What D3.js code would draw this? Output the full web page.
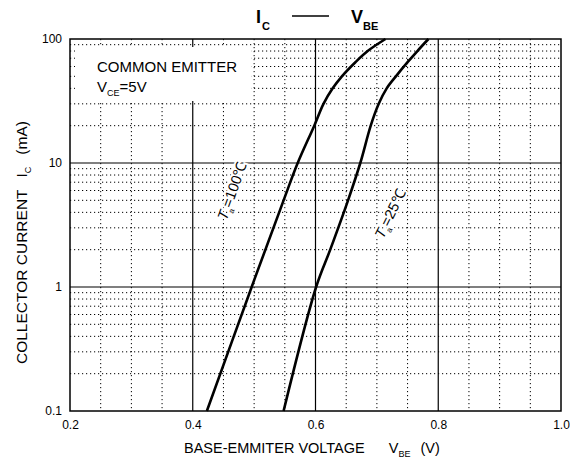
<!DOCTYPE html>
<html>
<head>
<meta charset="utf-8">
<script src="https://cdn.jsdelivr.net/npm/d3@7"></script>
<style>
  body { margin: 0; background: #fff; }
  text { font-family: "Liberation Sans", Arial, sans-serif; fill: #000; }
</style>
</head>
<body>
<svg id="chart" width="570" height="461"></svg>
<script>
// curve data
const vbe100 = [0.423, 0.496, 0.548, 0.571, 0.598, 0.613, 0.628, 0.643, 0.665, 0.685, 0.714];
const ic100 = [0.1, 1, 5, 10, 20, 30, 40, 50, 65, 80, 100];
const vbe25 = [0.548, 0.601, 0.624, 0.653, 0.673, 0.690, 0.703, 0.716, 0.731, 0.750, 0.766, 0.784];
const ic25 = [0.1, 1, 2, 5, 10, 20, 30, 40, 50, 65, 80, 100];

const xTicks = [0.2, 0.4, 0.6, 0.8, 1.0];
const xTickLabels = ['0.2', '0.4', '0.6', '0.8', '1.0'];
const yTicks = [0.1, 1, 10, 100];
const yTickLabels = ['0.1', '1', '10', '100'];

const svg = d3.select('#chart');
const plot = { left: 70, right: 561, top: 39, bottom: 411 };

const x = d3.scaleLinear().domain([0.2, 1.0]).range([plot.left, plot.right]);
const y = d3.scaleLog().domain([0.1, 100]).range([plot.bottom, plot.top]);

// minor grid (dotted)
const xMinor = d3.range(0.25, 1.0, 0.05).filter((v) => Math.abs(v * 5 - Math.round(v * 5)) > 0.01);
const yMinor = [];
[0.1, 1, 10].forEach((dec) => {
  for (let m = 2; m <= 9; m++) yMinor.push(dec * m);
});

const grid = svg.append('g');
grid.selectAll('.xminor')
  .data(xMinor)
  .join('line')
  .attr('x1', (d) => x(d))
  .attr('x2', (d) => x(d))
  .attr('y1', plot.top)
  .attr('y2', plot.bottom)
  .attr('stroke', '#000')
  .attr('stroke-width', 1)
  .attr('stroke-dasharray', '1.2,2.8');

grid.selectAll('.yminor')
  .data(yMinor)
  .join('line')
  .attr('x1', plot.left)
  .attr('x2', plot.right)
  .attr('y1', (d) => y(d))
  .attr('y2', (d) => y(d))
  .attr('stroke', '#000')
  .attr('stroke-width', 1)
  .attr('stroke-dasharray', '1.2,2.8');

// major grid (solid)
grid.selectAll('.xmajor')
  .data(xTicks.slice(1, -1))
  .join('line')
  .attr('x1', (d) => x(d))
  .attr('x2', (d) => x(d))
  .attr('y1', plot.top)
  .attr('y2', plot.bottom)
  .attr('stroke', '#000')
  .attr('stroke-width', 1.2);

grid.selectAll('.ymajor')
  .data(yTicks.slice(1, -1))
  .join('line')
  .attr('x1', plot.left)
  .attr('x2', plot.right)
  .attr('y1', (d) => y(d))
  .attr('y2', (d) => y(d))
  .attr('stroke', '#000')
  .attr('stroke-width', 1.2);

// white note box in the top left corner
svg.append('rect')
  .attr('x', 75)
  .attr('y', 47)
  .attr('width', 176)
  .attr('height', 54)
  .attr('fill', '#fff');

// frame
svg.append('rect')
  .attr('x', plot.left)
  .attr('y', plot.top)
  .attr('width', plot.right - plot.left)
  .attr('height', plot.bottom - plot.top)
  .attr('fill', 'none')
  .attr('stroke', '#000')
  .attr('stroke-width', 1.5);

// axes (labels only)
const xAxis = svg.append('g')
  .attr('transform', 'translate(0,' + plot.bottom + ')')
  .call(d3.axisBottom(x).tickValues(xTicks).tickFormat((d, i) => xTickLabels[i]).tickSize(0).tickPadding(9));
const yAxis = svg.append('g')
  .attr('transform', 'translate(' + plot.left + ',0)')
  .call(d3.axisLeft(y).tickValues(yTicks).tickFormat((d, i) => yTickLabels[i]).tickSize(0).tickPadding(8));
[xAxis, yAxis].forEach((g) => {
  g.select('.domain').remove();
  g.selectAll('text')
    .style('font-family', '"Liberation Sans", Arial, sans-serif')
    .style('font-size', '12px')
    .attr('fill', '#000');
});

// curves
const line = d3.line()
  .x((d) => x(d[0]))
  .y((d) => y(d[1]))
  .curve(d3.curveCatmullRom.alpha(0.5));

[[vbe100, ic100], [vbe25, ic25]].forEach(([vs, is]) => {
  svg.append('path')
    .datum(vs.map((v, i) => [v, is[i]]))
    .attr('d', line)
    .attr('fill', 'none')
    .attr('stroke', '#000')
    .attr('stroke-width', 2.6);
});

// curve labels
function tempLabel(cx, cy, angle, temp) {
  const t = svg.append('text')
    .attr('transform', 'translate(' + cx + ',' + cy + ') rotate(' + angle + ')')
    .attr('text-anchor', 'middle')
    .attr('dy', '0.35em')
    .style('font-size', '14.5px')
    .attr('stroke', '#fff')
    .attr('stroke-width', 4)
    .attr('paint-order', 'stroke');
  t.append('tspan').style('font-style', 'italic').text('T');
  t.append('tspan').style('font-size', '8px').attr('dy', 4).text('a');
  t.append('tspan').attr('dy', -4).text('=' + temp + '\u2103');
}
tempLabel(232, 191, -70, 100);
tempLabel(390, 214, -64, 25);

// note text
svg.append('text')
  .attr('x', 97)
  .attr('y', 72)
  .style('font-size', '15px')
  .text('COMMON EMITTER');
const vce = svg.append('text')
  .attr('x', 97)
  .attr('y', 92)
  .style('font-size', '15px');
vce.append('tspan').text('V');
vce.append('tspan').style('font-size', '9px').attr('dy', 4).text('CE');
vce.append('tspan').attr('dy', -4).text('=5V');

// title
const titleI = svg.append('text')
  .attr('x', 256)
  .attr('y', 23)
  .style('font-weight', 'bold')
  .style('font-size', '18px');
titleI.append('tspan').text('I');
titleI.append('tspan').style('font-size', '11px').attr('dy', 7).attr('dx', 1).text('C');
const titleV = svg.append('text')
  .attr('x', 351)
  .attr('y', 23)
  .style('font-weight', 'bold')
  .style('font-size', '18px');
titleV.append('tspan').text('V');
titleV.append('tspan').style('font-size', '11px').attr('dy', 7).attr('dx', 0).text('BE');
svg.append('line')
  .attr('x1', 292)
  .attr('x2', 329)
  .attr('y1', 16)
  .attr('y2', 16)
  .attr('stroke', '#000')
  .attr('stroke-width', 1.5);

// axis titles
const xTitle = svg.append('text')
  .attr('x', 184)
  .attr('y', 453)
  .style('font-size', '14.5px');
xTitle.append('tspan').text('BASE-EMMITER VOLTAGE');
xTitle.append('tspan').attr('dx', 24).text('V');
xTitle.append('tspan').style('font-size', '9px').attr('dy', 4).text('BE');
xTitle.append('tspan').attr('dx', 10).attr('dy', -4).text('(V)');

const yTitle = svg.append('text')
  .attr('transform', 'translate(27,364) rotate(-90)')
  .style('font-size', '15.5px');
yTitle.append('tspan').text('COLLECTOR CURRENT');
yTitle.append('tspan').attr('dx', 12).text('I');
yTitle.append('tspan').style('font-size', '9px').attr('dy', 4).text('C');
yTitle.append('tspan').attr('dx', 12).attr('dy', -4).text('(mA)');
</script>
</body>
</html>
